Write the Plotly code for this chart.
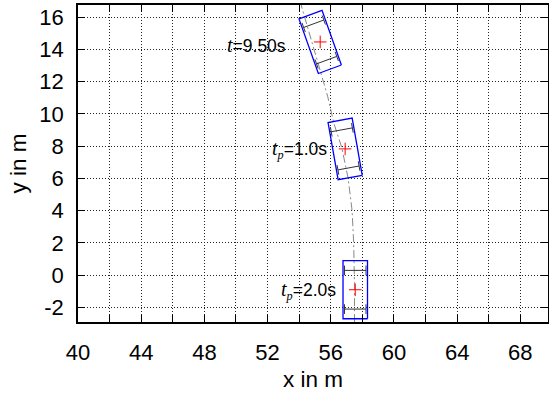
import numpy as np
import plotly.graph_objects as go

# ---------------- data ----------------
traj_x = [54.05, 54.5, 54.85, 55.3, 55.8, 56.2, 56.7, 57.1, 57.35, 57.45, 57.5, 57.5]
traj_y = [17.0, 15.5, 14.3, 12.9, 11.1, 9.4, 7.9, 6.0, 4.0, 2.0, -0.5, -3.0]

veh_x = [55.33, 56.91, 57.55]
veh_y = [14.46, 7.83, -0.90]
veh_heading = [109.9, 100.2, 90.0]   # direction of the long axis, degrees

label_text = ["<span style=\"font-family:Liberation Serif;font-size:20px\"><i>t</i></span>=9.50s",
              "<span style=\"font-family:Liberation Serif;font-size:20px\"><i>t</i></span><span style=\"font-family:Liberation Serif\"><sub><i>p</i></sub></span>=1.0s",
              "<span style=\"font-family:Liberation Serif;font-size:20px\"><i>t</i></span><span style=\"font-family:Liberation Serif\"><sub><i>p</i></sub></span>=2.0s"]
label_x = [53.31, 55.87, 56.45]
label_y = [14.24, 7.80, -0.93]

x_tickvals = [40, 44, 48, 52, 56, 60, 64, 68]
x_ticktext = ["40", "44", "48", "52", "56", "60", "64", "68"]
y_tickvals = [-2, 0, 2, 4, 6, 8, 10, 12, 14, 16]
y_ticktext = ["-2", "0", "2", "4", "6", "8", "10", "12", "14", "16"]

veh_length = 3.6
veh_width = 1.55
axle_offset = 1.2
half_track = 0.68
wheel_half = 0.3

x_range = [40, 69.75]
y_range = [-2.9, 16.75]

FONT = "Liberation Sans, Arial, sans-serif"

fig = go.Figure()

fig.add_trace(go.Scatter(x=traj_x, y=traj_y, mode="lines",
                         line=dict(color="#888888", width=1, dash="8px,3px,2px,3px"),
                         hoverinfo="skip", showlegend=False))


def to_global(cx, cy, h, pts):
    c, s = np.cos(np.radians(h)), np.sin(np.radians(h))
    xs, ys = [], []
    for p in pts:
        if p is None:
            xs.append(None); ys.append(None)
        else:
            u, v = p
            xs.append(cx + u * c - v * s)
            ys.append(cy + u * s + v * c)
    return xs, ys


for cx, cy, h in zip(veh_x, veh_y, veh_heading):
    L2, W2 = veh_length / 2, veh_width / 2
    pts = []
    for a in (-axle_offset, axle_offset):
        pts += [(a, -half_track), (a, half_track), None]
        for t in (-half_track, half_track):
            pts += [(a - wheel_half, t), (a + wheel_half, t), None]
    xs, ys = to_global(cx, cy, h, pts)
    fig.add_trace(go.Scatter(x=xs, y=ys, mode="lines",
                             line=dict(color="#333333", width=1),
                             hoverinfo="skip", showlegend=False))
    rect = [(-L2, -W2), (L2, -W2), (L2, W2), (-L2, W2), (-L2, -W2)]
    xs, ys = to_global(cx, cy, h, rect)
    fig.add_trace(go.Scatter(x=xs, y=ys, mode="lines",
                             line=dict(color="#0000ff", width=1.3),
                             hoverinfo="skip", showlegend=False))

fig.add_trace(go.Scatter(x=veh_x, y=veh_y, mode="markers",
                         marker=dict(symbol="cross-thin", size=9,
                                     line=dict(color="#ff0000", width=1)),
                         hoverinfo="skip", showlegend=False))

for tx, lx, ly in zip(label_text, label_x, label_y):
    fig.add_annotation(x=lx, y=ly, text=tx, showarrow=False,
                       xanchor="right", yanchor="middle",
                       font=dict(family=FONT, size=17.5, color="black"))

grid = dict(showgrid=True, gridcolor="#222222", gridwidth=1, griddash="1px,2px")

fig.update_xaxes(range=x_range, tickmode="array", tickvals=x_tickvals, ticktext=x_ticktext,
                 ticks="inside", ticklen=7, tickwidth=1, tickcolor="black",
                 ticklabelstandoff=10,
                 showline=True, linecolor="black", linewidth=1.5, mirror="allticks",
                 zeroline=False, automargin=False,
                 minor=dict(tick0=40, dtick=2, ticks="inside", ticklen=7, tickcolor="black",
                            showgrid=True, gridcolor="#222222", griddash="1px,2px"),
                 tickfont=dict(family=FONT, size=22, color="black"),
                 title=dict(text="x in m", font=dict(family=FONT, size=22.5, color="black"),
                            standoff=7),
                 **grid)
fig.update_yaxes(range=y_range, tickmode="array", tickvals=y_tickvals, ticktext=y_ticktext,
                 ticks="inside", ticklen=7, tickwidth=1, tickcolor="black",
                 ticklabelstandoff=8,
                 showline=True, linecolor="black", linewidth=1.5, mirror="allticks",
                 zeroline=False, automargin=False,
                 tickfont=dict(family=FONT, size=22, color="black"),
                 title=dict(text="y in m", font=dict(family=FONT, size=22.5, color="black"),
                            standoff=6),
                 **grid)

fig.update_layout(width=549, height=394,
                  margin=dict(l=77.5, r=1, t=4.5, b=72, autoexpand=False),
                  plot_bgcolor="white", paper_bgcolor="white",
                  font=dict(family=FONT))

fig.write_html("out.html", config={"responsive": False, "displayModeBar": False},
               post_script="document.body.style.margin='0px';document.body.style.padding='0px';")
